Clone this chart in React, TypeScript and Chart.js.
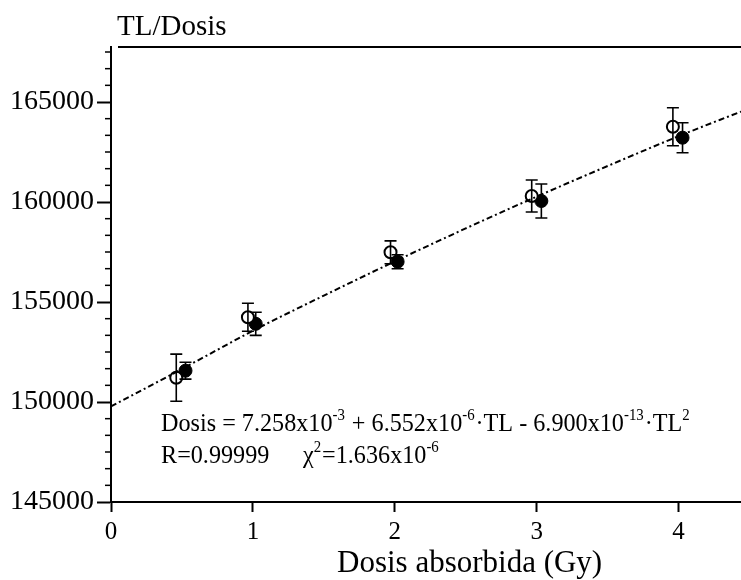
import React, { useEffect, useRef } from "react";
import { Chart, registerables } from "chart.js";

Chart.register(...registerables);

// ---- data ----
const fitX = [0, 0.5, 1, 1.5, 2, 2.5, 3, 3.5, 4, 4.44];
const fitY = [149780, 151650, 153560, 155320, 157030, 158680, 160270, 161800, 163290, 164520];

const openX = [0.46, 0.965, 1.97, 2.965, 3.96];
const openY = [151215, 154240, 157485, 160300, 163765];
const openErr = [1180, 700, 570, 800, 950];

const filledX = [0.525, 1.02, 2.02, 3.033, 4.028];
const filledY = [151565, 153910, 157015, 160050, 163215];
const filledErr = [420, 580, 350, 850, 750];

const yTicks = [145000, 150000, 155000, 160000, 165000];
const xTicks = [0, 1, 2, 3, 4];
const yMin = 145000;
const yMax = 167750;
const yMinorStep = 5000 / 6;
const xMin = 0;
const xMax = 4.44;

const yTitle = "TL/Dosis";
const xTitle = "Dosis absorbida (Gy)";
const eqLine1: [string, boolean][] = [
  ["Dosis = 7.258x10", false],
  ["-3", true],
  [" + 6.552x10", false],
  ["-6", true],
  ["·TL - 6.900x10", false],
  ["-13", true],
  ["·TL", false],
  ["2", true],
];
const eqLine2a: [string, boolean][] = [["R=0.99999", false]];
const eqLine2b: [string, boolean][] = [
  ["χ", false],
  ["2", true],
  ["=1.636x10", false],
  ["-6", true],
];

const SERIF = "'Liberation Serif', 'Times New Roman', serif";

function drawRuns(ctx: CanvasRenderingContext2D, runs: [string, boolean][], x: number, y: number, size: number, sx: number) {
  ctx.save();
  ctx.translate(x, y);
  ctx.scale(sx, 1);
  let cx = 0;
  for (const [t, sup] of runs) {
    ctx.font = `${sup ? Math.round(size * 0.6) : size}px ${SERIF}`;
    ctx.fillText(t, cx, sup ? -size * 0.42 : 0);
    cx += ctx.measureText(t).width + (sup ? 1 : 0);
  }
  ctx.restore();
}

const decorPlugin = {
  id: "decor",
  afterDatasetDraw(chart: any, args: any) {
    if (args.index !== 0) return;
    const ctx = chart.ctx as CanvasRenderingContext2D;
    const xs = chart.scales.x;
    const ys = chart.scales.y;
    ctx.save();
    ctx.strokeStyle = "#000";
    ctx.lineWidth = 1.6;
    const cap = 6;
    const draw = (X: number[], Y: number[], E: number[]) => {
      for (let i = 0; i < X.length; i++) {
        const px = xs.getPixelForValue(X[i]);
        const top = ys.getPixelForValue(Y[i] + E[i]);
        const bot = ys.getPixelForValue(Y[i] - E[i]);
        ctx.beginPath();
        ctx.moveTo(px, top);
        ctx.lineTo(px, bot);
        ctx.moveTo(px - cap, top);
        ctx.lineTo(px + cap, top);
        ctx.moveTo(px - cap, bot);
        ctx.lineTo(px + cap, bot);
        ctx.stroke();
      }
    };
    draw(openX, openY, openErr);
    draw(filledX, filledY, filledErr);
    ctx.restore();
  },
  afterDraw(chart: any) {
    const ctx = chart.ctx as CanvasRenderingContext2D;
    const ca = chart.chartArea;
    const ys = chart.scales.y;
    ctx.save();
    // top frame line
    ctx.strokeStyle = "#000";
    ctx.lineWidth = 2;
    ctx.beginPath();
    ctx.moveTo(ca.left + 7, ca.top);
    ctx.lineTo(ca.right, ca.top);
    ctx.stroke();
    // minor ticks on y axis
    ctx.lineWidth = 1.5;
    for (let v = yMin + yMinorStep; v < yMax; v += yMinorStep) {
      if (yTicks.some((t) => Math.abs(t - v) < 1)) continue;
      const py = ys.getPixelForValue(v);
      ctx.beginPath();
      ctx.moveTo(ca.left - 6, py);
      ctx.lineTo(ca.left, py);
      ctx.stroke();
    }
    // texts
    ctx.fillStyle = "#000";
    ctx.textBaseline = "alphabetic";
    ctx.textAlign = "left";
    ctx.font = `29px ${SERIF}`;
    ctx.fillText(yTitle, ca.left + 6, 35);
    ctx.font = `31px ${SERIF}`;
    ctx.fillText(xTitle, 337, 572);
    drawRuns(ctx, eqLine1, ca.left + 50, 431, 26, 0.93);
    drawRuns(ctx, eqLine2a, ca.left + 50, 463, 26, 0.93);
    drawRuns(ctx, eqLine2b, ca.left + 192, 463, 26, 0.93);
    ctx.restore();
  },
};

export default function App() {
  const ref = useRef<HTMLCanvasElement>(null);
  useEffect(() => {
    document.body.style.margin = "0";
    const canvas = ref.current!;
    const chart = new Chart(canvas, {
      type: "scatter",
      data: {
        datasets: [
          {
            data: fitX.map((x, i) => ({ x, y: fitY[i] })),
            showLine: true,
            borderColor: "#000",
            borderWidth: 2,
            borderDash: [6, 3, 2, 3],
            pointRadius: 0,
            cubicInterpolationMode: "monotone",
          } as any,
          {
            data: openX.map((x, i) => ({ x, y: openY[i] })),
            pointRadius: 6,
            pointBackgroundColor: "#fff",
            pointBorderColor: "#000",
            pointBorderWidth: 2,
            showLine: false,
          },
          {
            data: filledX.map((x, i) => ({ x, y: filledY[i] })),
            pointRadius: 6.5,
            pointBackgroundColor: "#000",
            pointBorderColor: "#000",
            pointBorderWidth: 1,
            showLine: false,
          },
        ],
      },
      options: {
        animation: false,
        responsive: false,
        layout: { autoPadding: false, padding: { top: 47, left: 0, right: 0, bottom: 0 } },
        plugins: { legend: { display: false }, tooltip: { enabled: false } },
        scales: {
          x: {
            type: "linear",
            min: xMin,
            max: xMax,
            afterFit: (s: any) => {
              s.height = 78;
              s.paddingLeft = 0;
              s.paddingRight = 0;
            },
            afterBuildTicks: (s: any) => {
              s.ticks = xTicks.map((v) => ({ value: v }));
            },
            ticks: {
              color: "#000",
              padding: 5,
              maxRotation: 0,
              autoSkip: false,
              callback: (v: any) => String(v),
              font: { family: SERIF, size: 25 },
            },
            grid: {
              drawOnChartArea: false,
              drawTicks: true,
              tickLength: 10,
              tickColor: "#000",
              tickWidth: 2,
            },
            border: { color: "#000", width: 2 },
          },
          y: {
            type: "linear",
            min: yMin,
            max: yMax,
            afterFit: (s: any) => {
              s.width = 111;
              s.paddingTop = 0;
              s.paddingBottom = 0;
            },
            afterBuildTicks: (s: any) => {
              s.ticks = yTicks.map((v) => ({ value: v }));
            },
            ticks: {
              color: "#000",
              padding: 3,
              autoSkip: false,
              callback: (v: any) => String(v),
              font: { family: SERIF, size: 28 },
            },
            grid: {
              drawOnChartArea: false,
              drawTicks: true,
              tickLength: 14,
              tickColor: "#000",
              tickWidth: 2,
            },
            border: { color: "#000", width: 2 },
          },
        },
      },
      plugins: [decorPlugin],
    });
    return () => chart.destroy();
  }, []);
  return <canvas ref={ref} width={741} height={580} style={{ display: "block" }} />;
}
